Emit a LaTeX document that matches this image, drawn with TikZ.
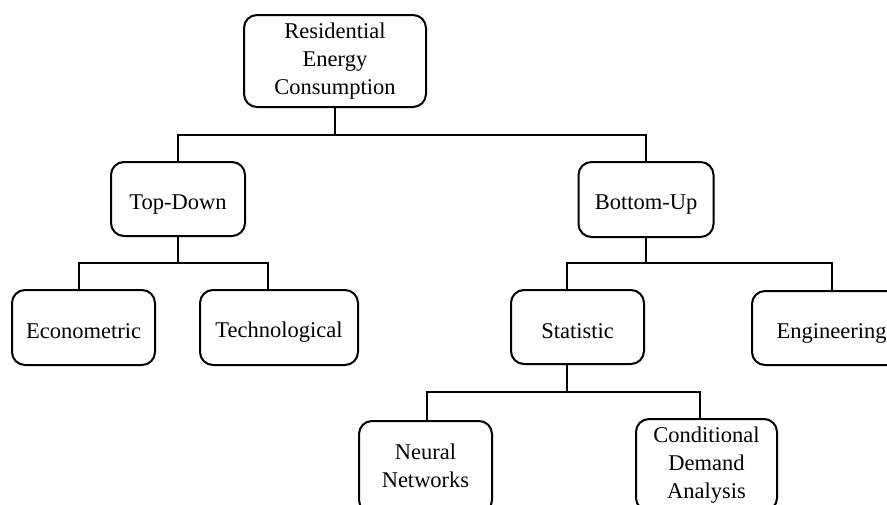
\documentclass[tikz,border=0pt]{standalone}
\usepackage{fontspec}
\setmainfont{Liberation Serif}
\newcommand{\boxstrut}{\rule[-3pt]{0pt}{28pt}}
\begin{document}
\begin{tikzpicture}[x=1pt,y=-1pt,
  box/.style={draw, line width=2pt, rounded corners=13pt, inner sep=0pt,
    align=center, font=\fontsize{22.5}{28}\selectfont,
    execute at begin node=\boxstrut, execute at end node=\boxstrut},
  link/.style={line width=2pt}]
\useasboundingbox (0,0) rectangle (887,504);
\clip (0,0) rectangle (887,504);
% nodes
\node[box, minimum width=182pt, minimum height=92pt] (root) at (335,61) {Residential\\Energy\\Consumption};
\node[box, minimum width=134pt, minimum height=74pt] (td) at (178,199) {Top-Down};
\node[box, minimum width=135pt, minimum height=75pt] (bu) at (646,199.5) {Bottom-Up};
\node[box, minimum width=143pt, minimum height=75pt] (econ) at (83.5,327.5) {Econometric};
\node[box, minimum width=158pt, minimum height=75pt] (tech) at (279,327.5) {Technological};
\node[box, minimum width=133pt, minimum height=74pt] (stat) at (577.5,327) {Statistic};
\node[box, minimum width=159pt, minimum height=74pt] (eng) at (831.5,328) {Engineering};
\node[box, minimum width=133pt, minimum height=92pt] (nn) at (425.5,467) {Neural\\Networks};
\node[box, minimum width=141pt, minimum height=92pt] (cda) at (706.5,465) {Conditional\\Demand\\Analysis};
% junction coordinates
\coordinate (bus0) at (335,135);
\coordinate (bus1) at (178,263);
\coordinate (de) at (79,263);
\coordinate (dt) at (268,263);
\coordinate (bus2) at (646,263);
\coordinate (ds) at (566.5,263);
\coordinate (dg) at (831.5,263);
\coordinate (bus3) at (566.5,392);
\coordinate (dn) at (427,392);
\coordinate (dc) at (700,392);
% connectors
\draw[link] (root.south) -- (bus0);
\draw[link] (td.north) |- (bus0) -| (bu.north);
\draw[link] (td.south) -- (bus1);
\draw[link] (econ.north -| de) -- (de) -- (dt) -- (tech.north -| dt);
\draw[link] (bu.south) -- (bus2);
\draw[link] (stat.north -| ds) -- (ds) -- (dg) -- (eng.north);
\draw[link] (stat.south -| bus3) -- (bus3);
\draw[link] (nn.north -| dn) -- (dn) -- (dc) -- (cda.north -| dc);
\end{tikzpicture}
\end{document}
